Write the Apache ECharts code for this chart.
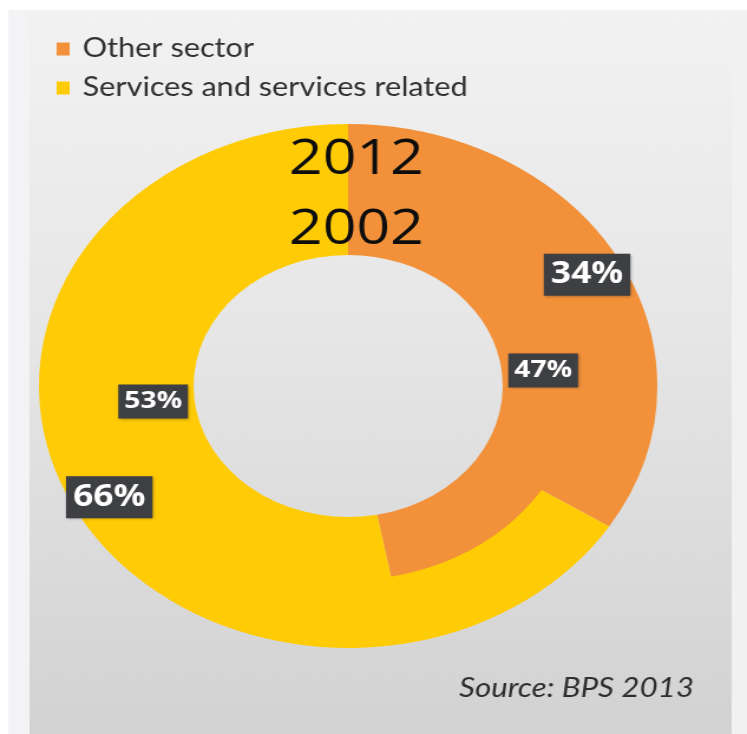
<!DOCTYPE html>
<html>
<head>
<meta charset="utf-8">
<script src="https://cdn.jsdelivr.net/npm/echarts@6/dist/echarts.min.js"></script>
<style>
  html, body { margin: 0; padding: 0; background: #ffffff; overflow: hidden; }
  #wrap { width: 747px; height: 734px; overflow: hidden; }
  /* the chart is laid out on a narrower canvas and widened to the page */
  #chart { width: 633px; height: 734px; transform: scaleX(1.1801); transform-origin: 0 0; }
</style>
</head>
<body>
<div id="wrap"><div id="chart"></div></div>
<script>
// Sector shares of employment, outer ring 2012, inner ring 2002
const categories = ['Other sector', 'Services and services related'];
const share2012 = [34, 66];
const share2002 = [47, 53];
const years = ['2012', '2002'];
const sourceNote = 'Source: BPS 2013';

const colors = ['#F2913A', '#FFCB05'];
const centre = [295, 386];

function ringData(values) {
  return categories.map((name, i) => ({ name, value: values[i] }));
}

function ringLabel(size) {
  return {
    show: true,
    position: 'inside',
    formatter: '{c}%',
    color: '#ffffff',
    fontFamily: 'Open Sans',
    fontWeight: 'bold',
    fontSize: size,
    backgroundColor: '#3e3f42',
    padding: [Math.round(size * 0.24), Math.round(size * 0.19), Math.round(size * 0.16), Math.round(size * 0.19)],
    shadowColor: 'rgba(0,0,0,0.35)',
    shadowBlur: 3,
    shadowOffsetX: 1,
    shadowOffsetY: 1
  };
}

const ringStyle = { borderWidth: 0, borderColor: 'transparent' };

const chart = echarts.init(document.getElementById('chart'), null, { renderer: 'canvas' });

chart.setOption({
  animation: false,
  color: colors,
  graphic: [
    { type: 'rect', z: -10, shape: { x: 7, y: 10, width: 18, height: 724 },
      style: { fill: '#f3f3f6' } },
    { type: 'rect', z: -10, shape: { x: 25, y: 10, width: 595, height: 724 },
      style: {
        fill: new echarts.graphic.LinearGradient(0, 0, 0, 1, [
          { offset: 0, color: '#f2f2f2' },
          { offset: 0.45, color: '#e6e6e6' },
          { offset: 1, color: '#d2d2d2' }
        ])
      } },
    { type: 'rect', z: -10, shape: { x: 620, y: 10, width: 13, height: 724 },
      style: { fill: '#f1f1f1' } },
    { type: 'text', z: 20, x: 302, y: 160,
      style: { text: years[0], fill: '#0d0d0d', font: '500 50px "Open Sans"', align: 'center', verticalAlign: 'middle' } },
    { type: 'text', z: 20, x: 302, y: 230,
      style: { text: years[1], fill: '#0d0d0d', font: '500 50px "Open Sans"', align: 'center', verticalAlign: 'middle' } },
    { type: 'text', z: 20, x: 588, y: 688,
      style: { text: sourceNote, fill: '#2e2e2e', font: 'italic 26.5px Lato', align: 'right', verticalAlign: 'middle' } }
  ],
  legend: {
    orient: 'vertical',
    left: 43,
    top: 31,
    itemWidth: 11,
    itemHeight: 13,
    itemGap: 13,
    icon: 'rect',
    selectedMode: false,
    data: categories,
    textStyle: { color: '#303030', fontFamily: 'Lato', fontSize: 26, padding: [0, 0, 0, 6] }
  },
  series: [
    {
      name: years[1],
      type: 'pie',
      center: centre,
      radius: [131, 195],
      startAngle: 90,
      clockwise: true,
      avoidLabelOverlap: false,
      emphasis: { disabled: true },
      labelLine: { show: false },
      itemStyle: ringStyle,
      label: ringLabel(24),
      data: ringData(share2002)
    },
    {
      name: years[0],
      type: 'pie',
      center: centre,
      radius: [194, 262],
      startAngle: 90,
      clockwise: true,
      avoidLabelOverlap: false,
      emphasis: { disabled: true },
      labelLine: { show: false },
      itemStyle: ringStyle,
      label: ringLabel(30),
      data: ringData(share2012)
    }
  ]
});
</script>
</body>
</html>
